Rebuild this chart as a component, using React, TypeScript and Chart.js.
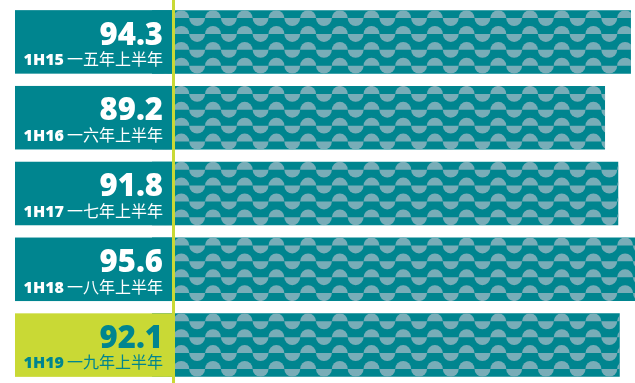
import React, { useEffect, useRef } from "react";
import { Chart, registerables } from "chart.js";

Chart.register(...registerables);

const periods = ["1H15", "1H16", "1H17", "1H18", "1H19"];
const periodsZh = ["一五年上半年", "一六年上半年", "一七年上半年", "一八年上半年", "一九年上半年"];
const values = [94.3, 89.2, 91.8, 95.6, 92.1];

const TEAL = "#00858F";
const WAVE = "#78ADB8";
const LIME = "#C9D935";

const overlayPlugin = {
  id: "overlay",
  afterDatasetsDraw(chart: any) {
    const ctx = chart.ctx as CanvasRenderingContext2D;
    const meta = chart.getDatasetMeta(0);
    const area = chart.chartArea;
    const P = 31.7;
    const phase = area.left + 29.3;
    const boxLeft = 15;
    const boxRight = 173;
    meta.data.forEach((el: any, i: number) => {
      const h = el.height;
      const top = el.y - h / 2;
      const left = Math.min(el.base, el.x);
      const right = Math.max(el.base, el.x);
      ctx.save();
      ctx.beginPath();
      ctx.rect(left, top, right - left, h);
      ctx.clip();
      ctx.fillStyle = WAVE;
      const rowH = h / 4;
      const r = rowH / 2;
      for (let row = 0; row < 4; row++) {
        const base = top + row * rowH + r;
        let start = phase;
        while (start > left - P) start -= P;
        for (let cx = start; cx < right + P; cx += P) {
          ctx.beginPath();
          ctx.moveTo(cx - r, base);
          ctx.arc(cx, base, r, Math.PI, 2 * Math.PI);
          ctx.closePath();
          ctx.fill();
          ctx.beginPath();
          ctx.moveTo(cx + P / 2 + r, base);
          ctx.arc(cx + P / 2, base, r, 0, Math.PI);
          ctx.closePath();
          ctx.fill();
        }
      }
      ctx.restore();
      const last = i === meta.data.length - 1;
      ctx.save();
      ctx.fillStyle = last ? LIME : TEAL;
      ctx.fillRect(boxLeft, top, boxRight - boxLeft, h);
      ctx.fillStyle = last ? TEAL : "#FFFFFF";
      ctx.textAlign = "right";
      ctx.textBaseline = "alphabetic";
      const rx = 163;
      ctx.font = "800 31px 'Open Sans'";
      ctx.fillText(values[i].toFixed(1), rx, top + 34.5);
      const lbl = chart.data.labels[i] as string;
      const zh = periodsZh[i];
      ctx.font = "16px 'Noto Sans CJK SC'";
      const wZh = ctx.measureText(zh).width;
      ctx.fillText(zh, rx, top + 55);
      ctx.font = "800 16px 'Open Sans'";
      ctx.fillText(lbl, rx - wZh - 3, top + 55);
      ctx.restore();
    });
    ctx.save();
    ctx.fillStyle = LIME;
    ctx.fillRect(172, 0, 3, chart.height);
    ctx.restore();
  },
};

export default function App() {
  const ref = useRef<HTMLCanvasElement>(null);
  useEffect(() => {
    if (!ref.current) return;
    const chart = new Chart(ref.current, {
      type: "bar",
      data: {
        labels: periods,
        datasets: [
          {
            data: values,
            backgroundColor: TEAL,
            borderWidth: 0,
            categoryPercentage: 1,
            barPercentage: 0.838,
          },
        ],
      },
      options: {
        indexAxis: "y",
        responsive: false,
        animation: false,
        devicePixelRatio: 1,
        layout: { padding: { left: 152, right: 0, top: 4, bottom: 0 } },
        scales: {
          x: { display: false, min: 0, max: 95.1 },
          y: { display: false },
        },
        plugins: { legend: { display: false }, tooltip: { enabled: false } },
      },
      plugins: [overlayPlugin],
    });
    return () => chart.destroy();
  }, []);
  return (
    <div style={{ position: "fixed", left: 0, top: 0, width: 635, height: 383, background: "#fff" }}>
      <canvas ref={ref} width={635} height={383} style={{ display: "block" }} />
    </div>
  );
}
